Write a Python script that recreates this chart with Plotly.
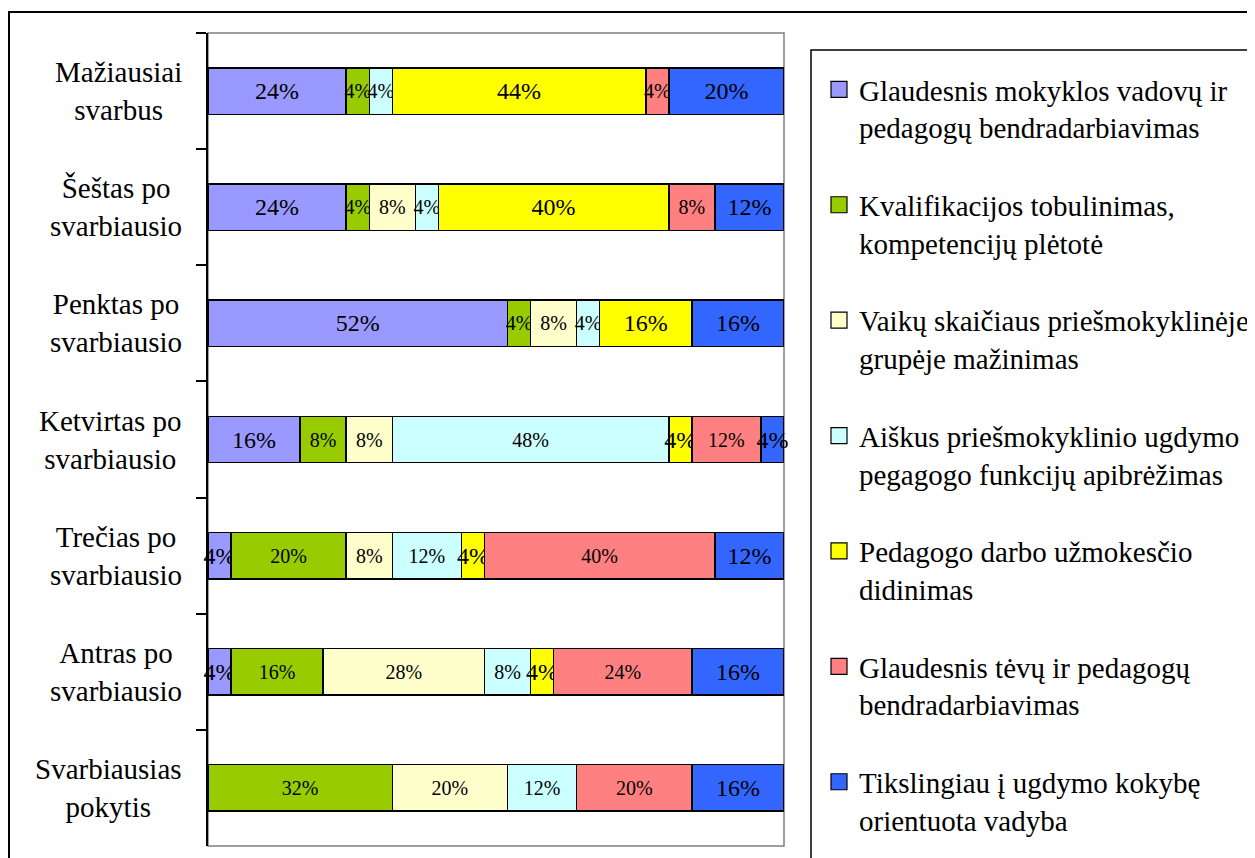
import plotly.graph_objects as go

categories = [
    "Mažiausiai<br>svarbus",
    "Šeštas po<br>svarbiausio",
    "Penktas po<br>svarbiausio",
    "Ketvirtas po<br>svarbiausio",
    "Trečias po<br>svarbiausio",
    "Antras po<br>svarbiausio",
    "Svarbiausias<br>pokytis",
]

series_names = [
    "Glaudesnis mokyklos vadovų ir<br>pedagogų bendradarbiavimas",
    "Kvalifikacijos tobulinimas,<br>kompetencijų plėtotė",
    "Vaikų skaičiaus priešmokyklinėje<br>grupėje mažinimas",
    "Aiškus priešmokyklinio ugdymo<br>pegagogo funkcijų apibrėžimas",
    "Pedagogo darbo užmokesčio<br>didinimas",
    "Glaudesnis tėvų ir pedagogų<br>bendradarbiavimas",
    "Tikslingiau į ugdymo kokybę<br>orientuota vadyba",
]

vadovu_pedagogu = [24, 24, 52, 16, 4, 4, 0]
kvalifikacija = [4, 4, 4, 8, 20, 16, 32]
vaiku_skaicius = [0, 8, 8, 8, 8, 28, 20]
funkciju_apibrezimas = [4, 4, 4, 48, 12, 8, 12]
uzmokestis = [44, 40, 16, 4, 4, 4, 0]
tevu_pedagogu = [4, 8, 0, 12, 40, 24, 20]
vadyba = [20, 12, 16, 4, 12, 16, 16]

series_values = [vadovu_pedagogu, kvalifikacija, vaiku_skaicius,
                 funkciju_apibrezimas, uzmokestis, tevu_pedagogu, vadyba]

colors = ["#9999FF", "#99CC00", "#FFFFCC", "#CCFFFF", "#FFFF00", "#FF8080", "#3366FF"]
label_sizes = [24, 20, 20, 20, 24, 20, 24]

FONT = "Liberation Serif, Times New Roman, serif"

# page body has an 8px margin; target pixel coords below are in reference space
OFF = 8
W, H = 1255 - OFF, 858 - OFF
L = 208 - OFF
Rpx = 784 - OFF
T = 33 - OFF
Bpx = 846 - OFF
pw, ph = Rpx - L, Bpx - T


def px_x(px):
    return (px - OFF - L) / pw


def px_y(py):
    return (Bpx - (py - OFF)) / ph


fig = go.Figure()

for name, vals, col, fs in zip(series_names, series_values, colors, label_sizes):
    fig.add_trace(go.Bar(
        y=categories, x=vals, orientation="h", name=name,
        marker=dict(color=col, line=dict(color="black", width=1.5)),
        text=[f"{v}%" if v > 0 else "" for v in vals],
        textposition="inside", insidetextanchor="middle", textangle=0,
        constraintext="none", cliponaxis=False,
        textfont=dict(family=FONT, size=fs, color="black"),
        showlegend=False, hoverinfo="skip",
    ))

# legend proxies (larger square symbols)
for i, (name, col) in enumerate(zip(series_names, colors)):
    fig.add_trace(go.Scatter(
        x=[None], y=[None], mode="markers", name=name,
        legendgroup=f"g{i}",
        marker=dict(symbol="square", size=16, color=col, line=dict(color="black", width=1.2)),
        showlegend=True,
    ))

# category labels, centered lines, right edge near axis
for c in categories:
    fig.add_annotation(
        x=px_x(184), xref="paper", y=c, yref="y",
        text=c, showarrow=False, xanchor="right", yanchor="middle", align="center",
        font=dict(family=FONT, size=29, color="black"),
    )

shapes = [
    dict(type="rect", xref="paper", yref="paper", x0=0, x1=1, y0=0, y1=1,
         line=dict(color="#808080", width=1.5), layer="below"),
    dict(type="rect", xref="paper", yref="paper", x0=px_x(9), x1=px_x(1400),
         y0=px_y(1000), y1=px_y(12), line=dict(color="black", width=2)),
    dict(type="rect", xref="paper", yref="paper", x0=px_x(811), x1=px_x(1400),
         y0=px_y(1000), y1=px_y(50), line=dict(color="black", width=1.5)),
]

fig.update_layout(
    width=W, height=H,
    barmode="stack", bargap=0.6,
    paper_bgcolor="white", plot_bgcolor="white",
    margin=dict(l=L, r=W - Rpx, t=T, b=H - Bpx, autoexpand=False),
    font=dict(family=FONT, size=29, color="black"),
    xaxis=dict(range=[0, 100], showticklabels=False, showgrid=False, zeroline=False,
               ticks="", showline=False, fixedrange=True),
    yaxis=dict(type="category", categoryorder="array", categoryarray=categories,
               autorange="reversed", showticklabels=False, showgrid=False, zeroline=False,
               showline=True, linecolor="black", linewidth=2,
               ticks="outside", tickson="boundaries", ticklen=10, tickcolor="black", tickwidth=1.5),
    legend=dict(x=px_x(819), y=px_y(64), xanchor="left", yanchor="top",
                traceorder="grouped", tracegroupgap=37, valign="top",
                bgcolor="rgba(0,0,0,0)", borderwidth=0,
                font=dict(family=FONT, size=29, color="black")),
    shapes=shapes,
    showlegend=True,
)

fig.write_html("out.html")
